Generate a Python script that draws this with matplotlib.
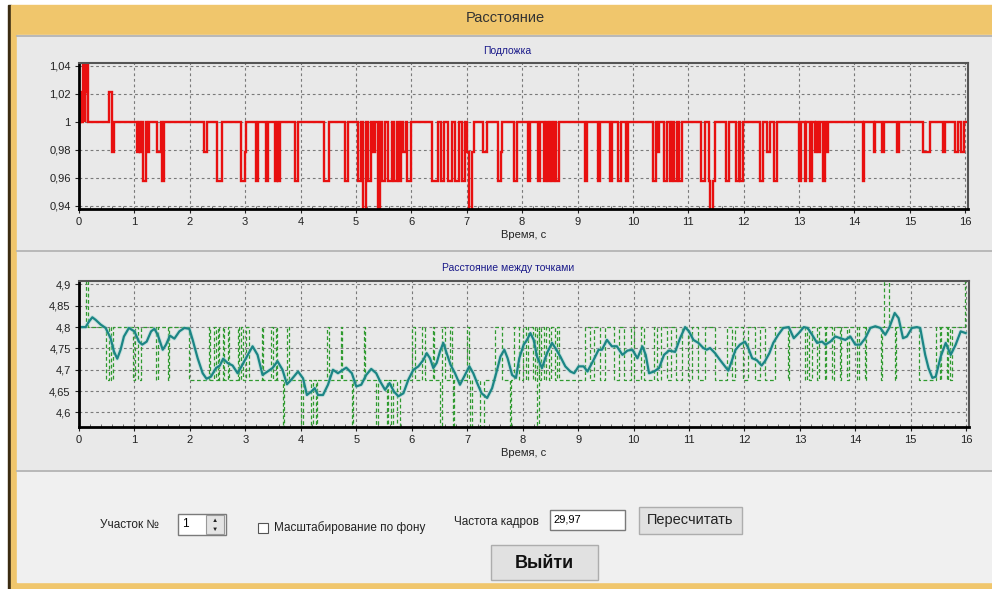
import matplotlib
matplotlib.use("Agg")
import matplotlib.pyplot as plt
import numpy as np
from matplotlib.patches import Rectangle
from matplotlib.ticker import FixedLocator, FuncFormatter, MultipleLocator

plt.rcParams['font.family'] = ['Liberation Sans', 'DejaVu Sans']

W, H = 992, 589

# ---- data: top chart ("Подложка"), ratio n/47, baseline 1 with dips ----
U2, U1, D1, D2, D3 = 49 / 47, 48 / 47, 46 / 47, 45 / 47, 44 / 47
bg_dips = [
    (0.04, 0.06, U1), (0.07, 0.10, U2), (0.11, 0.13, U2), (0.13, 0.15, U1),
    (0.15, 0.17, U2),
    (0.54, 0.60, U1), (0.60, 0.64, D1),
    (1.05, 1.08, D1), (1.10, 1.13, D1), (1.15, 1.21, D2), (1.23, 1.27, D1),
    (1.41, 1.48, D1), (1.49, 1.54, D2), (2.26, 2.31, D1), (2.50, 2.58, D2),
    (2.92, 3.00, D2), (3.00, 3.02, D1), (3.19, 3.24, D2), (3.37, 3.42, D2),
    (3.54, 3.57, D2), (3.59, 3.63, D2), (3.90, 3.95, D2), (4.43, 4.51, D2),
    (4.81, 4.85, D2), (5.04, 5.10, D2), (5.12, 5.19, D3), (5.22, 5.28, D2),
    (5.30, 5.35, D1), (5.39, 5.44, D3), (5.47, 5.52, D2), (5.57, 5.65, D2),
    (5.69, 5.75, D2), (5.78, 5.82, D2), (5.85, 5.90, D1), (5.93, 5.99, D2),
    (6.38, 6.49, D2), (6.53, 6.59, D2), (6.67, 6.73, D2), (6.79, 6.86, D2),
    (6.92, 6.96, D2), (7.00, 7.05, D1), (7.05, 7.10, D3), (7.10, 7.13, D1),
    (7.30, 7.36, D1), (7.57, 7.61, D2),
    (7.61, 7.64, D1), (7.85, 7.90, D2), (8.11, 8.14, D2), (8.29, 8.32, D2),
    (8.40, 8.43, D2), (8.47, 8.50, D2), (8.54, 8.57, D2), (8.62, 8.66, D2),
    (9.13, 9.17, D2), (9.37, 9.40, D2), (9.58, 9.63, D2), (9.73, 9.78, D2),
    (9.87, 9.91, D2), (10.37, 10.42, D2), (10.44, 10.48, D1), (10.57, 10.61, D2),
    (10.67, 10.71, D2), (10.75, 10.79, D2), (10.84, 10.88, D2), (11.23, 11.30, D2),
    (11.38, 11.40, D2), (11.40, 11.44, D3), (11.44, 11.48, D2), (11.68, 11.74, D2),
    (11.86, 11.91, D2), (11.93, 11.98, D2), (12.30, 12.35, D2), (12.43, 12.48, D1),
    (12.55, 12.60, D2), (13.00, 13.04, D2), (13.10, 13.13, D2), (13.20, 13.24, D2),
    (13.28, 13.31, D1), (13.35, 13.38, D1), (13.43, 13.46, D2), (13.49, 13.52, D1),
    (14.15, 14.18, D2), (14.35, 14.38, D1), (14.49, 14.53, D1), (14.77, 14.80, D1),
    (15.23, 15.36, D1), (15.60, 15.63, D1), (15.82, 15.87, D1), (15.92, 15.98, D1),
]
bg_yticks = [0.94, 0.96, 0.98, 1.0, 1.02, 1.04]

# ---- data: bottom chart ("Расстояние между точками") ----
HI, LO, DEEP, TOP = 4.8, 4.675, 4.55, 4.925
raw_steps = [
    (0.00, HI), (0.12, TOP), (0.17, HI), (0.49, LO), (0.54, HI), (0.57, LO),
    (0.61, HI), (0.98, LO), (1.01, HI), (1.07, LO), (1.11, HI), (1.39, LO),
    (1.43, HI), (1.60, LO), (1.63, HI), (1.99, LO),
    (2.34, HI), (2.37, LO), (2.44, HI), (2.47, LO), (2.50, HI), (2.52, LO),
    (2.59, HI), (2.61, LO), (2.68, HI), (2.70, LO), (2.86, HI), (2.89, LO),
    (2.93, HI), (2.95, LO), (3.01, HI), (3.07, LO), (3.30, HI), (3.32, LO),
    (3.46, HI), (3.49, LO), (3.55, HI), (3.57, LO), (3.67, DEEP), (3.70, LO),
    (3.76, HI), (3.78, LO), (4.00, DEEP), (4.04, LO), (4.19, DEEP), (4.22, LO),
    (4.27, DEEP), (4.29, LO), (4.48, HI), (4.50, LO), (4.72, HI), (4.74, LO),
    (4.93, DEEP), (4.95, LO), (5.14, HI), (5.16, LO), (5.36, DEEP), (5.40, LO),
    (5.55, DEEP), (5.58, LO), (5.62, DEEP), (5.66, LO), (5.74, DEEP), (5.78, LO),
    (6.00, HI), (6.06, LO), (6.18, HI), (6.24, LO), (6.38, HI), (6.40, LO),
    (6.51, DEEP), (6.54, HI), (6.60, LO), (6.69, HI), (6.72, LO), (6.74, DEEP),
    (6.76, LO), (6.99, HI), (7.04, LO), (7.05, DEEP), (7.08, LO), (7.23, DEEP),
    (7.30, LO), (7.51, HI), (7.63, LO), (7.77, DEEP), (7.79, LO), (7.84, HI),
    (7.93, LO), (8.00, HI), (8.06, LO), (8.10, HI), (8.18, LO), (8.22, HI),
    (8.26, DEEP), (8.29, HI), (8.30, LO), (8.34, HI), (8.38, LO), (8.42, HI),
    (8.48, LO), (8.52, HI), (8.58, LO), (8.62, HI), (8.66, LO),
    (9.13, HI), (9.22, LO), (9.28, HI), (9.40, LO), (9.49, HI), (9.64, LO),
    (9.73, HI), (9.83, LO), (9.95, HI), (10.00, LO), (10.13, HI), (10.19, LO),
    (10.37, HI), (10.43, LO), (10.49, HI), (10.61, LO), (10.67, HI), (10.76, LO),
    (10.87, HI), (10.99, LO), (11.05, HI), (11.17, LO), (11.29, HI), (11.47, LO),
    (11.68, HI), (11.77, LO), (11.83, HI), (11.98, LO), (12.07, HI), (12.19, LO),
    (12.28, HI), (12.37, LO), (12.55, HI), (12.79, LO), (12.81, HI), (13.10, LO),
    (13.13, HI), (13.16, LO), (13.22, HI), (13.31, LO), (13.34, HI), (13.45, LO),
    (13.47, HI), (13.58, LO), (13.61, HI), (13.72, LO), (13.74, HI), (13.85, LO),
    (13.88, HI), (14.03, LO), (14.06, HI), (14.17, LO), (14.19, HI), (14.47, LO),
    (14.49, HI), (14.51, TOP), (14.61, HI), (14.71, LO), (14.73, HI), (15.14, LO),
    (15.45, HI), (15.53, LO), (15.55, HI), (15.65, LO), (15.67, HI), (15.71, LO),
    (15.74, HI), (15.98, TOP), (16.05, TOP),
]
dist_t = [0.00, 0.12, 0.18, 0.24, 0.30, 0.39, 0.48, 0.57, 0.63, 0.69, 0.75, 0.81,
          0.90, 1.00, 1.08, 1.14, 1.22, 1.30, 1.36, 1.42, 1.51, 1.57, 1.64, 1.72,
          1.81, 1.90, 1.99, 2.05, 2.14, 2.23, 2.30, 2.38, 2.47, 2.54, 2.60, 2.68,
          2.77, 2.86, 2.94, 3.01, 3.13, 3.22, 3.31, 3.40, 3.49, 3.58, 3.67, 3.75,
          3.83, 3.95, 4.04, 4.11, 4.19, 4.25, 4.31, 4.40, 4.49, 4.58, 4.67, 4.76,
          4.82, 4.92, 5.00, 5.09, 5.18, 5.27, 5.36, 5.43, 5.52, 5.60, 5.68, 5.76,
          5.85, 5.94, 6.03, 6.12, 6.21, 6.27, 6.33, 6.39, 6.45, 6.51, 6.57, 6.63,
          6.70, 6.78, 6.87, 6.96, 7.04, 7.11, 7.18, 7.26, 7.36, 7.45, 7.54, 7.60,
          7.67, 7.73, 7.81, 7.88, 7.94, 8.02, 8.08, 8.14, 8.20, 8.26, 8.35, 8.44,
          8.53, 8.61, 8.68, 8.77, 8.86, 8.93, 9.01, 9.10, 9.17, 9.28, 9.37, 9.43,
          9.52, 9.61, 9.70, 9.80, 9.89, 9.98, 10.07, 10.16, 10.22, 10.28, 10.37, 10.46,
          10.55, 10.64, 10.75, 10.84, 10.93, 11.00, 11.08, 11.17, 11.26, 11.32, 11.38, 11.47,
          11.56, 11.65, 11.71, 11.77, 11.84, 11.92, 12.01, 12.07, 12.14, 12.22, 12.31, 12.37,
          12.45, 12.52, 12.61, 12.70, 12.80, 12.89, 12.98, 13.07, 13.14, 13.22, 13.31, 13.40,
          13.46, 13.55, 13.64, 13.73, 13.82, 13.91, 14.00, 14.09, 14.18, 14.27, 14.36, 14.45,
          14.54, 14.61, 14.71, 14.78, 14.86, 14.93, 15.02, 15.11, 15.17, 15.26, 15.32, 15.39,
          15.45, 15.54, 15.63, 15.72, 15.81, 15.90, 15.99]
dist_v = [4.800, 4.800, 4.813, 4.823, 4.817, 4.806, 4.798, 4.774, 4.743, 4.726, 4.747, 4.778,
          4.798, 4.790, 4.766, 4.759, 4.766, 4.790, 4.796, 4.782, 4.747, 4.759, 4.780, 4.773,
          4.790, 4.798, 4.796, 4.770, 4.727, 4.692, 4.679, 4.684, 4.704, 4.710, 4.726, 4.716,
          4.710, 4.692, 4.710, 4.727, 4.755, 4.735, 4.688, 4.696, 4.704, 4.720, 4.700, 4.666,
          4.677, 4.696, 4.680, 4.641, 4.649, 4.657, 4.641, 4.641, 4.665, 4.700, 4.692, 4.700,
          4.705, 4.692, 4.661, 4.665, 4.688, 4.702, 4.692, 4.673, 4.653, 4.669, 4.649, 4.638,
          4.645, 4.677, 4.700, 4.708, 4.723, 4.739, 4.727, 4.704, 4.716, 4.743, 4.763, 4.739,
          4.712, 4.692, 4.665, 4.688, 4.708, 4.692, 4.669, 4.645, 4.634, 4.657, 4.700, 4.731,
          4.747, 4.727, 4.688, 4.681, 4.727, 4.759, 4.770, 4.786, 4.770, 4.731, 4.704, 4.739,
          4.763, 4.747, 4.731, 4.708, 4.696, 4.692, 4.708, 4.708, 4.696, 4.723, 4.747, 4.747,
          4.770, 4.755, 4.755, 4.735, 4.745, 4.747, 4.727, 4.755, 4.735, 4.692, 4.696, 4.704,
          4.735, 4.745, 4.742, 4.774, 4.800, 4.790, 4.770, 4.763, 4.751, 4.747, 4.751, 4.739,
          4.723, 4.708, 4.698, 4.720, 4.747, 4.759, 4.766, 4.751, 4.727, 4.723, 4.710, 4.720,
          4.739, 4.763, 4.782, 4.798, 4.800, 4.774, 4.786, 4.800, 4.798, 4.782, 4.763, 4.766,
          4.759, 4.766, 4.778, 4.774, 4.770, 4.778, 4.759, 4.759, 4.774, 4.798, 4.802, 4.798,
          4.782, 4.798, 4.833, 4.821, 4.774, 4.778, 4.798, 4.800, 4.798, 4.735, 4.704, 4.681,
          4.684, 4.731, 4.763, 4.735, 4.759, 4.790, 4.786]
dist_yticks = [4.6, 4.65, 4.7, 4.75, 4.8, 4.85, 4.9]


def comma(v, pos=None):
    return ('%g' % round(v, 3)).replace('.', ',')


def px_axes(fig, left, top, right, bottom):
    return fig.add_axes([left / W, 1 - bottom / H, (right - left) / W, (bottom - top) / H])


def style_chart(ax, yticks, ylim):
    ax.set_facecolor('#E9E9E9')
    ax.set_xlim(0, 16.05)
    ax.set_ylim(*ylim)
    ax.xaxis.set_major_locator(MultipleLocator(1))
    ax.xaxis.set_minor_locator(MultipleLocator(0.2))
    ax.xaxis.set_major_formatter(FuncFormatter(lambda v, p: '%d' % round(v)))
    ax.yaxis.set_major_locator(FixedLocator(yticks))
    ax.yaxis.set_major_formatter(FuncFormatter(comma))
    ax.grid(True, which='major', color='#7a7a7a', linestyle=(0, (2.5, 2.5)), linewidth=0.8)
    ax.tick_params(which='major', direction='out', length=3, labelsize=8,
                   colors='#222222', pad=3)
    ax.tick_params(axis='x', which='minor', direction='in', length=2.5, color='#555555')
    for s in ('left', 'bottom'):
        ax.spines[s].set_linewidth(2)
        ax.spines[s].set_color('black')
    for s in ('top', 'right'):
        ax.spines[s].set_linewidth(1.5)
        ax.spines[s].set_color('#555555')
    ax.set_xlabel('Время, с', fontsize=8, color='#222222', labelpad=2)


fig = plt.figure(figsize=(W / 100, H / 100), dpi=100, facecolor='white')

# window frame and panels, drawn in pixel coordinates
bg = fig.add_axes([0, 0, 1, 1], zorder=0)
bg.set_xlim(0, W)
bg.set_ylim(H, 0)
bg.axis('off')
bg.add_patch(Rectangle((8, 5), 3, H, color='#3b2c12'))
bg.add_patch(Rectangle((11, 5), W - 11, H - 5, color='#F0C66C'))
bg.add_patch(Rectangle((17, 35), W - 17, 215, color='#E9E9E9'))
bg.add_patch(Rectangle((17, 251), W - 17, 219, color='#E9E9E9'))
bg.add_patch(Rectangle((17, 471), W - 17, 111, color='#F0F0F0'))
for yy in (35.5, 250.5, 470.5):
    bg.plot([17, W], [yy, yy], color='#B4B4B4', lw=1.3)
bg.text(505, 18, 'Расстояние', ha='center', va='center', fontsize=10.5, color='#333333')
bg.text(507, 51, 'Подложка', ha='center', va='center', fontsize=7.5, color='#1a1a8a')
bg.text(508, 268, 'Расстояние между точками', ha='center', va='center',
        fontsize=7.5, color='#1a1a8a')

# bottom controls
bg.text(100, 525, 'Участок №', ha='left', va='center', fontsize=8.5, color='#222222')
bg.add_patch(Rectangle((178, 514), 48, 21, fc='white', ec='#7a7a7a', lw=1))
bg.text(182, 524, '1', ha='left', va='center', fontsize=8.5)
bg.add_patch(Rectangle((206, 515), 18, 19, fc='#E4E4E4', ec='#9a9a9a', lw=0.8))
bg.text(215, 520, '▲', ha='center', va='center', fontsize=4.5, color='#222222')
bg.text(215, 529, '▼', ha='center', va='center', fontsize=4.5, color='#222222')
bg.add_patch(Rectangle((258, 523), 10, 10, fc='white', ec='#555555', lw=0.8))
bg.text(274, 528, 'Масштабирование по фону', ha='left', va='center', fontsize=8.5,
        color='#222222')
bg.text(454, 522, 'Частота кадров', ha='left', va='center', fontsize=8.5, color='#222222')
bg.add_patch(Rectangle((550, 510), 75, 20, fc='white', ec='#7a7a7a', lw=1))
bg.text(553, 519, '29,97', ha='left', va='center', fontsize=8)
bg.add_patch(Rectangle((639, 507), 103, 27, fc='#E1E1E1', ec='#ADADAD', lw=1))
bg.text(690.5, 520, 'Пересчитать', ha='center', va='center', fontsize=10.5,
        color='#222222')
bg.add_patch(Rectangle((491, 545), 107, 35, fc='#E1E1E1', ec='#ADADAD', lw=1))
bg.text(544.5, 563, 'Выйти', ha='center', va='center', fontsize=13,
        fontweight='bold', color='#111111')

# top chart
ax1 = px_axes(fig, 79, 63, 968, 209)
t1, v1 = [0.0], [1.0]
prev_end = None
for t0, te, v in bg_dips:
    if prev_end is not None and abs(t0 - prev_end) > 1e-9:
        t1.append(prev_end)
        v1.append(1.0)
    t1.append(t0)
    v1.append(v)
    prev_end = te
t1 += [prev_end, 16.05]
v1 += [1.0, 1.0]
ax1.step(t1, v1, where='post', color='#E81010', lw=1.7, solid_joinstyle='miter')
style_chart(ax1, bg_yticks, (0.9376, 1.0421))

# bottom chart
ax2 = px_axes(fig, 79, 281, 969, 427)
rt = [s[0] for s in raw_steps]
rv = [s[1] for s in raw_steps]
ax2.step(rt, rv, where='post', color='#2f9a2f', lw=0.9, linestyle=(0, (3, 2)))
ax2.plot(dist_t, dist_v, color='#9fd6d0', lw=3.0, alpha=0.45)
ax2.plot(dist_t, dist_v, color='#1c8585', lw=1.6)
style_chart(ax2, dist_yticks, (4.566, 4.908))

fig.savefig('out.png', dpi=100, facecolor=fig.get_facecolor())
